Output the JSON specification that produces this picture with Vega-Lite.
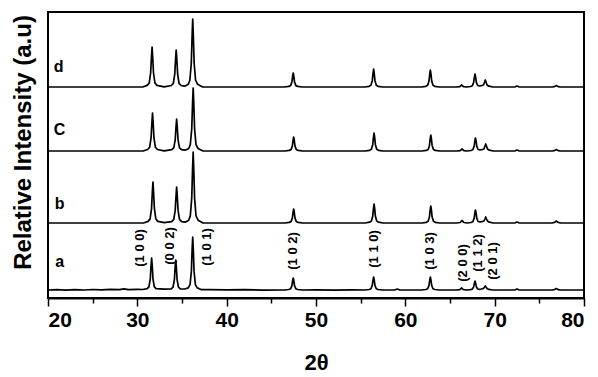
{
 "$schema": "https://vega.github.io/schema/vega-lite/v6.json",
 "width": 536, "height": 286,
 "autosize": "none",
 "padding": {"left": 48, "top": 12, "right": 14, "bottom": 79},
 "config": {"view": {"stroke": "black", "strokeWidth": 2}, "font": "Liberation Sans"},
 "layer": [
  {
   "data": {"values": [
{"s":"d","x":20,"y":211},{"s":"d","x":30.6,"y":211},{"s":"d","x":31.1,"y":212.6},{"s":"d","x":31.33,"y":215},{"s":"d","x":31.49,"y":225},{"s":"d","x":31.58,"y":241},{"s":"d","x":31.65,"y":251},{"s":"d","x":31.72,"y":241},{"s":"d","x":31.81,"y":225},{"s":"d","x":31.97,"y":215},{"s":"d","x":32.2,"y":212.6},{"s":"d","x":33.0,"y":211.2},
{"s":"d","x":33.8,"y":212.5},{"s":"d","x":34.03,"y":214.7},{"s":"d","x":34.19,"y":224},{"s":"d","x":34.28,"y":238.8},{"s":"d","x":34.35,"y":248},{"s":"d","x":34.42,"y":238.8},{"s":"d","x":34.51,"y":224},{"s":"d","x":34.67,"y":214.7},{"s":"d","x":34.9,"y":212.5},{"s":"d","x":35.3,"y":211.8},
{"s":"d","x":35.7,"y":213.7},{"s":"d","x":35.88,"y":217.8},{"s":"d","x":36.04,"y":234.8},{"s":"d","x":36.13,"y":262},{"s":"d","x":36.2,"y":279},{"s":"d","x":36.27,"y":262},{"s":"d","x":36.36,"y":234.8},{"s":"d","x":36.52,"y":217.8},{"s":"d","x":36.75,"y":213.7},{"s":"d","x":37.3,"y":211},
{"s":"d","x":46.45,"y":211},{"s":"d","x":46.95,"y":211.6},{"s":"d","x":47.15,"y":212.4},{"s":"d","x":47.3,"y":215.9},{"s":"d","x":47.38,"y":221.5},{"s":"d","x":47.45,"y":225},{"s":"d","x":47.52,"y":221.5},{"s":"d","x":47.6,"y":215.9},{"s":"d","x":47.75,"y":212.4},{"s":"d","x":47.95,"y":211.6},{"s":"d","x":48.45,"y":211},
{"s":"d","x":55.45,"y":211},{"s":"d","x":55.95,"y":211.7},{"s":"d","x":56.15,"y":212.8},{"s":"d","x":56.3,"y":217.3},{"s":"d","x":56.38,"y":224.5},{"s":"d","x":56.45,"y":229},{"s":"d","x":56.52,"y":224.5},{"s":"d","x":56.6,"y":217.3},{"s":"d","x":56.75,"y":212.8},{"s":"d","x":56.95,"y":211.7},{"s":"d","x":57.45,"y":211},
{"s":"d","x":61.8,"y":211},{"s":"d","x":62.3,"y":211.7},{"s":"d","x":62.5,"y":212.7},{"s":"d","x":62.65,"y":217},{"s":"d","x":62.73,"y":223.8},{"s":"d","x":62.8,"y":228},{"s":"d","x":62.87,"y":223.8},{"s":"d","x":62.95,"y":217},{"s":"d","x":63.1,"y":212.7},{"s":"d","x":63.3,"y":211.7},{"s":"d","x":63.8,"y":211},
{"s":"d","x":65.7,"y":211},{"s":"d","x":66.1,"y":211.4},{"s":"d","x":66.22,"y":212.4},{"s":"d","x":66.3,"y":213},{"s":"d","x":66.38,"y":212.4},{"s":"d","x":66.5,"y":211.4},{"s":"d","x":66.9,"y":211},
{"s":"d","x":67.3,"y":211.5},{"s":"d","x":67.5,"y":212.3},{"s":"d","x":67.65,"y":215.6},{"s":"d","x":67.73,"y":220.8},{"s":"d","x":67.8,"y":224},{"s":"d","x":67.87,"y":220.8},{"s":"d","x":67.95,"y":215.6},{"s":"d","x":68.1,"y":212.5},{"s":"d","x":68.3,"y":212},{"s":"d","x":68.5,"y":212.3},
{"s":"d","x":68.75,"y":213},{"s":"d","x":68.87,"y":216},{"s":"d","x":68.95,"y":218},{"s":"d","x":69.03,"y":216},{"s":"d","x":69.15,"y":213},{"s":"d","x":69.35,"y":211.8},{"s":"d","x":69.8,"y":211},
{"s":"d","x":72.0,"y":211},{"s":"d","x":72.3,"y":211.2},{"s":"d","x":72.5,"y":212},{"s":"d","x":72.7,"y":211.2},{"s":"d","x":73.0,"y":211},
{"s":"d","x":76.4,"y":211},{"s":"d","x":76.7,"y":211.4},{"s":"d","x":76.9,"y":212.5},{"s":"d","x":77.1,"y":211.4},{"s":"d","x":77.4,"y":211},{"s":"d","x":80,"y":211},

{"s":"c","x":20,"y":147},{"s":"c","x":30.65,"y":147},{"s":"c","x":31.15,"y":148.5},{"s":"c","x":31.38,"y":150.8},{"s":"c","x":31.54,"y":160.3},{"s":"c","x":31.63,"y":175.5},{"s":"c","x":31.7,"y":185},{"s":"c","x":31.77,"y":175.5},{"s":"c","x":31.86,"y":160.3},{"s":"c","x":32.02,"y":150.8},{"s":"c","x":32.25,"y":148.5},{"s":"c","x":33.0,"y":147.2},
{"s":"c","x":33.85,"y":148.3},{"s":"c","x":34.08,"y":150.2},{"s":"c","x":34.24,"y":158.2},{"s":"c","x":34.33,"y":171},{"s":"c","x":34.4,"y":179},{"s":"c","x":34.47,"y":171},{"s":"c","x":34.56,"y":158.2},{"s":"c","x":34.72,"y":150.2},{"s":"c","x":34.95,"y":148.3},{"s":"c","x":35.35,"y":147.8},
{"s":"c","x":35.75,"y":149.5},{"s":"c","x":35.93,"y":153.3},{"s":"c","x":36.09,"y":169},{"s":"c","x":36.18,"y":194.3},{"s":"c","x":36.25,"y":210},{"s":"c","x":36.32,"y":194.3},{"s":"c","x":36.41,"y":169},{"s":"c","x":36.57,"y":153.3},{"s":"c","x":36.8,"y":149.5},{"s":"c","x":37.35,"y":147},
{"s":"c","x":46.5,"y":147},{"s":"c","x":47.0,"y":147.6},{"s":"c","x":47.2,"y":148.4},{"s":"c","x":47.35,"y":151.9},{"s":"c","x":47.43,"y":157.5},{"s":"c","x":47.5,"y":161},{"s":"c","x":47.57,"y":157.5},{"s":"c","x":47.65,"y":151.9},{"s":"c","x":47.8,"y":148.4},{"s":"c","x":48.0,"y":147.6},{"s":"c","x":48.5,"y":147},
{"s":"c","x":55.5,"y":147},{"s":"c","x":56.0,"y":147.7},{"s":"c","x":56.2,"y":148.8},{"s":"c","x":56.35,"y":153.3},{"s":"c","x":56.43,"y":160.5},{"s":"c","x":56.5,"y":165},{"s":"c","x":56.57,"y":160.5},{"s":"c","x":56.65,"y":153.3},{"s":"c","x":56.8,"y":148.8},{"s":"c","x":57.0,"y":147.7},{"s":"c","x":57.5,"y":147},
{"s":"c","x":61.85,"y":147},{"s":"c","x":62.35,"y":147.6},{"s":"c","x":62.55,"y":148.6},{"s":"c","x":62.7,"y":152.6},{"s":"c","x":62.78,"y":159},{"s":"c","x":62.85,"y":163},{"s":"c","x":62.92,"y":159},{"s":"c","x":63.0,"y":152.6},{"s":"c","x":63.15,"y":148.6},{"s":"c","x":63.35,"y":147.6},{"s":"c","x":63.85,"y":147},
{"s":"c","x":65.75,"y":147},{"s":"c","x":66.15,"y":147.4},{"s":"c","x":66.27,"y":148.4},{"s":"c","x":66.35,"y":149},{"s":"c","x":66.43,"y":148.4},{"s":"c","x":66.55,"y":147.4},{"s":"c","x":66.95,"y":147},
{"s":"c","x":67.35,"y":147.5},{"s":"c","x":67.55,"y":148.3},{"s":"c","x":67.7,"y":151.6},{"s":"c","x":67.78,"y":156.8},{"s":"c","x":67.85,"y":160},{"s":"c","x":67.92,"y":156.8},{"s":"c","x":68.0,"y":151.6},{"s":"c","x":68.15,"y":148.5},{"s":"c","x":68.35,"y":148},{"s":"c","x":68.55,"y":148.3},
{"s":"c","x":68.8,"y":149},{"s":"c","x":68.92,"y":152},{"s":"c","x":69.0,"y":154},{"s":"c","x":69.08,"y":152},{"s":"c","x":69.2,"y":149},{"s":"c","x":69.4,"y":147.8},{"s":"c","x":69.85,"y":147},
{"s":"c","x":72.0,"y":147},{"s":"c","x":72.3,"y":147.2},{"s":"c","x":72.5,"y":148},{"s":"c","x":72.7,"y":147.2},{"s":"c","x":73.0,"y":147},
{"s":"c","x":76.4,"y":147},{"s":"c","x":76.7,"y":147.4},{"s":"c","x":76.9,"y":148.5},{"s":"c","x":77.1,"y":147.4},{"s":"c","x":77.4,"y":147},{"s":"c","x":80,"y":147},

{"s":"b","x":20,"y":75},{"s":"b","x":30.7,"y":75},{"s":"b","x":31.2,"y":76.6},{"s":"b","x":31.43,"y":79.1},{"s":"b","x":31.59,"y":89.4},{"s":"b","x":31.68,"y":105.8},{"s":"b","x":31.75,"y":116},{"s":"b","x":31.82,"y":105.8},{"s":"b","x":31.91,"y":89.4},{"s":"b","x":32.07,"y":79.1},{"s":"b","x":32.3,"y":76.6},{"s":"b","x":33.0,"y":75.3},
{"s":"b","x":33.85,"y":76.4},{"s":"b","x":34.08,"y":78.6},{"s":"b","x":34.24,"y":87.6},{"s":"b","x":34.33,"y":102},{"s":"b","x":34.4,"y":111},{"s":"b","x":34.47,"y":102},{"s":"b","x":34.56,"y":87.6},{"s":"b","x":34.72,"y":78.6},{"s":"b","x":34.95,"y":76.4},{"s":"b","x":35.35,"y":75.8},
{"s":"b","x":35.75,"y":77.8},{"s":"b","x":35.93,"y":82.1},{"s":"b","x":36.09,"y":99.9},{"s":"b","x":36.18,"y":128.3},{"s":"b","x":36.25,"y":146},{"s":"b","x":36.32,"y":128.3},{"s":"b","x":36.41,"y":99.9},{"s":"b","x":36.57,"y":82.1},{"s":"b","x":36.8,"y":77.8},{"s":"b","x":37.35,"y":75},
{"s":"b","x":46.5,"y":75},{"s":"b","x":47.0,"y":75.6},{"s":"b","x":47.2,"y":76.4},{"s":"b","x":47.35,"y":79.9},{"s":"b","x":47.43,"y":85.5},{"s":"b","x":47.5,"y":89},{"s":"b","x":47.57,"y":85.5},{"s":"b","x":47.65,"y":79.9},{"s":"b","x":47.8,"y":76.4},{"s":"b","x":48.0,"y":75.6},{"s":"b","x":48.5,"y":75},
{"s":"b","x":55.5,"y":75},{"s":"b","x":56.0,"y":75.8},{"s":"b","x":56.2,"y":76.9},{"s":"b","x":56.35,"y":81.7},{"s":"b","x":56.43,"y":89.3},{"s":"b","x":56.5,"y":94},{"s":"b","x":56.57,"y":89.3},{"s":"b","x":56.65,"y":81.7},{"s":"b","x":56.8,"y":76.9},{"s":"b","x":57.0,"y":75.8},{"s":"b","x":57.5,"y":75},
{"s":"b","x":61.85,"y":75},{"s":"b","x":62.35,"y":75.7},{"s":"b","x":62.55,"y":76.7},{"s":"b","x":62.7,"y":81},{"s":"b","x":62.78,"y":87.8},{"s":"b","x":62.85,"y":92},{"s":"b","x":62.92,"y":87.8},{"s":"b","x":63.0,"y":81},{"s":"b","x":63.15,"y":76.7},{"s":"b","x":63.35,"y":75.7},{"s":"b","x":63.85,"y":75},
{"s":"b","x":65.75,"y":75},{"s":"b","x":66.15,"y":75.5},{"s":"b","x":66.27,"y":76.8},{"s":"b","x":66.35,"y":77.5},{"s":"b","x":66.43,"y":76.8},{"s":"b","x":66.55,"y":75.5},{"s":"b","x":66.95,"y":75},
{"s":"b","x":67.35,"y":75.5},{"s":"b","x":67.55,"y":76.3},{"s":"b","x":67.7,"y":79.6},{"s":"b","x":67.78,"y":84.8},{"s":"b","x":67.85,"y":88},{"s":"b","x":67.92,"y":84.8},{"s":"b","x":68.0,"y":79.6},{"s":"b","x":68.15,"y":76.5},{"s":"b","x":68.35,"y":76},{"s":"b","x":68.55,"y":76.3},
{"s":"b","x":68.8,"y":77},{"s":"b","x":68.92,"y":79.2},{"s":"b","x":69.0,"y":81},{"s":"b","x":69.08,"y":79.2},{"s":"b","x":69.2,"y":77},{"s":"b","x":69.4,"y":75.8},{"s":"b","x":69.85,"y":75},
{"s":"b","x":72.0,"y":75},{"s":"b","x":72.3,"y":75.2},{"s":"b","x":72.5,"y":76},{"s":"b","x":72.7,"y":75.2},{"s":"b","x":73.0,"y":75},
{"s":"b","x":76.4,"y":75},{"s":"b","x":76.7,"y":75.6},{"s":"b","x":76.9,"y":77},{"s":"b","x":77.1,"y":75.6},{"s":"b","x":77.4,"y":75},{"s":"b","x":80,"y":75},

{"s":"a","x":20,"y":8},{"s":"a","x":21,"y":8.3},{"s":"a","x":22,"y":7.8},{"s":"a","x":23,"y":8.4},{"s":"a","x":24,"y":8},{"s":"a","x":25,"y":8.5},{"s":"a","x":26,"y":8.1},{"s":"a","x":27,"y":8.6},{"s":"a","x":28,"y":8.3},{"s":"a","x":28.5,"y":9.2},{"s":"a","x":29,"y":8.4},{"s":"a","x":30,"y":8.7},{"s":"a","x":30.6,"y":8.5},
{"s":"a","x":31.1,"y":9.3},{"s":"a","x":31.3,"y":11.2},{"s":"a","x":31.45,"y":19.2},{"s":"a","x":31.53,"y":32},{"s":"a","x":31.6,"y":40},{"s":"a","x":31.67,"y":32},{"s":"a","x":31.75,"y":19.2},{"s":"a","x":31.9,"y":11.2},{"s":"a","x":32.1,"y":9.3},{"s":"a","x":33.0,"y":8.8},
{"s":"a","x":33.8,"y":9.2},{"s":"a","x":34.0,"y":11},{"s":"a","x":34.15,"y":18.5},{"s":"a","x":34.23,"y":30.5},{"s":"a","x":34.3,"y":38},{"s":"a","x":34.37,"y":30.5},{"s":"a","x":34.45,"y":18.5},{"s":"a","x":34.6,"y":11},{"s":"a","x":34.8,"y":9.2},{"s":"a","x":35.3,"y":9},
{"s":"a","x":35.7,"y":10.1},{"s":"a","x":35.9,"y":13.3},{"s":"a","x":36.05,"y":26.6},{"s":"a","x":36.13,"y":47.8},{"s":"a","x":36.2,"y":61},{"s":"a","x":36.27,"y":47.8},{"s":"a","x":36.35,"y":26.6},{"s":"a","x":36.5,"y":13.3},{"s":"a","x":36.7,"y":10.1},{"s":"a","x":37.2,"y":8.3},
{"s":"a","x":38,"y":8.4},{"s":"a","x":40,"y":8.1},{"s":"a","x":42,"y":8.3},{"s":"a","x":44,"y":7.9},{"s":"a","x":46.45,"y":8},
{"s":"a","x":46.95,"y":8.5},{"s":"a","x":47.15,"y":9.2},{"s":"a","x":47.3,"y":12.2},{"s":"a","x":47.38,"y":17},{"s":"a","x":47.45,"y":20},{"s":"a","x":47.52,"y":17},{"s":"a","x":47.6,"y":12.2},{"s":"a","x":47.75,"y":9.2},{"s":"a","x":47.95,"y":8.5},{"s":"a","x":48.45,"y":8},
{"s":"a","x":50,"y":8.2},{"s":"a","x":52,"y":7.9},{"s":"a","x":54,"y":8.1},{"s":"a","x":55.45,"y":8},
{"s":"a","x":55.95,"y":8.5},{"s":"a","x":56.15,"y":9.3},{"s":"a","x":56.3,"y":12.6},{"s":"a","x":56.38,"y":17.8},{"s":"a","x":56.45,"y":21},{"s":"a","x":56.52,"y":17.8},{"s":"a","x":56.6,"y":12.6},{"s":"a","x":56.75,"y":9.3},{"s":"a","x":56.95,"y":8.5},{"s":"a","x":57.45,"y":8},
{"s":"a","x":58.8,"y":8},{"s":"a","x":59.1,"y":9},{"s":"a","x":59.4,"y":8},{"s":"a","x":61.8,"y":8},
{"s":"a","x":62.3,"y":8.5},{"s":"a","x":62.5,"y":9.3},{"s":"a","x":62.65,"y":12.6},{"s":"a","x":62.73,"y":17.8},{"s":"a","x":62.8,"y":21},{"s":"a","x":62.87,"y":17.8},{"s":"a","x":62.95,"y":12.6},{"s":"a","x":63.1,"y":9.3},{"s":"a","x":63.3,"y":8.5},{"s":"a","x":63.8,"y":8},
{"s":"a","x":65.7,"y":8},{"s":"a","x":66.1,"y":8.4},{"s":"a","x":66.22,"y":9.4},{"s":"a","x":66.3,"y":10},{"s":"a","x":66.38,"y":9.4},{"s":"a","x":66.5,"y":8.4},{"s":"a","x":66.9,"y":8},
{"s":"a","x":67.3,"y":8.4},{"s":"a","x":67.5,"y":8.9},{"s":"a","x":67.65,"y":11.2},{"s":"a","x":67.73,"y":14.8},{"s":"a","x":67.8,"y":17},{"s":"a","x":67.87,"y":14.8},{"s":"a","x":67.95,"y":11.2},{"s":"a","x":68.1,"y":9},{"s":"a","x":68.3,"y":8.6},{"s":"a","x":68.5,"y":9},
{"s":"a","x":68.75,"y":9.6},{"s":"a","x":68.87,"y":11},{"s":"a","x":68.95,"y":12},{"s":"a","x":69.03,"y":11},{"s":"a","x":69.15,"y":9.6},{"s":"a","x":69.35,"y":8.6},{"s":"a","x":69.8,"y":8},
{"s":"a","x":72.0,"y":8},{"s":"a","x":72.3,"y":8.2},{"s":"a","x":72.5,"y":9},{"s":"a","x":72.7,"y":8.2},{"s":"a","x":73.0,"y":8},
{"s":"a","x":76.4,"y":8},{"s":"a","x":76.7,"y":8.4},{"s":"a","x":76.9,"y":9.5},{"s":"a","x":77.1,"y":8.4},{"s":"a","x":77.4,"y":8},{"s":"a","x":80,"y":8}
   ]},
   "mark": {"type": "line", "color": "black", "strokeWidth": 1.7, "strokeJoin": "round"},
   "encoding": {
    "x": {"field": "x", "type": "quantitative", "scale": {"domain": [20, 80], "nice": false},
      "axis": {"values": [20,25,30,35,40,45,50,55,60,65,70,75,80], "labelExpr": "datum.value % 10 === 0 ? datum.label : ''",
        "grid": false, "domainColor": "black", "domainWidth": 2, "tickColor": "black", "tickWidth": 1.5,
        "tickSize": {"condition": {"test": "datum.value % 10 === 0", "value": 8}, "value": 5},
        "labelFontSize": 21, "labelFontWeight": "bold", "labelColor": "black", "labelPadding": 3, "labelFont": "Liberation Sans",
        "title": "2θ", "titleFontSize": 22, "titleFontWeight": "bold", "titleColor": "black", "titleFont": "Liberation Sans", "titleBaseline": "middle", "titleY": 64}},
    "y": {"field": "y", "type": "quantitative", "scale": {"domain": [0, 286], "nice": false},
      "axis": {"ticks": false, "labels": false, "domain": false, "grid": false,
        "title": "Relative Intensity (a.u)", "titleFontSize": 24, "titleFontWeight": "bold", "titleColor": "black", "titleFont": "Liberation Sans",
        "titleAngle": 270, "titleAlign": "center", "titleBaseline": "middle", "titleX": -25, "titleY": 130}},
    "detail": {"field": "s"}
   }
  },
  {
   "data": {"values": [
     {"t": "d", "x": 21.2, "y": 231},
     {"t": "C", "x": 21.3, "y": 168},
     {"t": "b", "x": 21.3, "y": 94},
     {"t": "a", "x": 21.3, "y": 36}
   ]},
   "mark": {"type": "text", "fontSize": 16, "fontWeight": "bold", "font": "Liberation Sans", "color": "black", "align": "center", "baseline": "middle"},
   "encoding": {"x": {"field": "x", "type": "quantitative"}, "y": {"field": "y", "type": "quantitative"}, "text": {"field": "t"}}
  },
  {
   "data": {"values": [
     {"t": "(1 0 0)", "x": 30.3, "y": 50},
     {"t": "(0 0 2)", "x": 33.65, "y": 52},
     {"t": "(1 0 1)", "x": 37.8, "y": 51},
     {"t": "(1 0 2)", "x": 47.4, "y": 47},
     {"t": "(1 1 0)", "x": 56.5, "y": 49},
     {"t": "(1 0 3)", "x": 62.8, "y": 47},
     {"t": "(2 0 0)", "x": 66.45, "y": 35},
     {"t": "(1 1 2)", "x": 68.1, "y": 45},
     {"t": "(2 0 1)", "x": 69.8, "y": 37}
   ]},
   "mark": {"type": "text", "fontSize": 13, "fontWeight": "bold", "font": "Liberation Sans", "color": "black", "angle": 270, "align": "center", "baseline": "middle"},
   "encoding": {"x": {"field": "x", "type": "quantitative"}, "y": {"field": "y", "type": "quantitative"}, "text": {"field": "t"}}
  }
 ]
}
